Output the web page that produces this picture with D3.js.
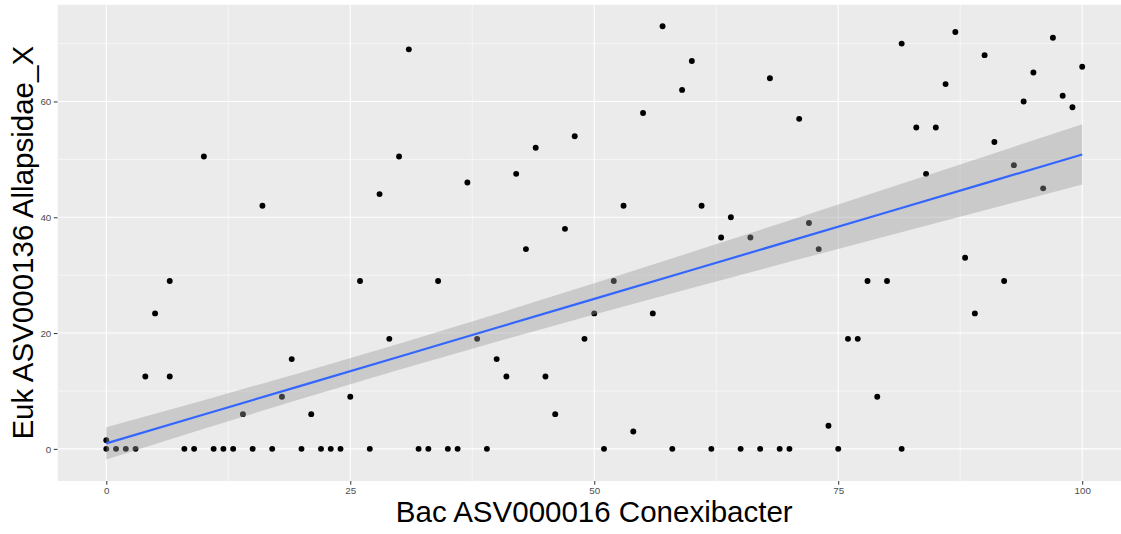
<!DOCTYPE html>
<html><head><meta charset="utf-8">
<script src="https://cdn.jsdelivr.net/npm/d3@7"></script>
<style>body{margin:0;background:#fff}svg{display:block}</style>
</head><body>
<script>
// Observations: Bac ASV000016 Conexibacter (x) vs Euk ASV000136 Allapsidae_X (y)
const bacX = [0,1,2,3,8,9,11,12,13,15,17,20,22,23,24,27,32,33,35,36,39,51,58,62,65,67,69,70,75,81.5,
  0,4,5,6.5,6.5,10,14,16,18,19,21,25,26,28,29,30,31,34,37,38,40,41,42,43,44,45,46,47,48,49,50,
  52,53,54,55,56,57,59,60,61,63,64,66,68,71,72,73,74,76,77,78,79,80,81.5,83,84,85,86,87,88,89,
  90,91,92,93,94,95,96,97,98,99,100];
const eukY = [0,0,0,0,0,0,0,0,0,0,0,0,0,0,0,0,0,0,0,0,0,0,0,0,0,0,0,0,0,0,
  1.5,12.5,23.4,29,12.5,50.5,6,42,9,15.5,6,9,29,44,19,50.5,69,29,46,19,15.5,12.5,47.5,34.5,52,12.5,6,38,54,19,23.4,
  29,42,3,58,23.4,73,62,67,42,36.5,40,36.5,64,57,39,34.5,4,19,19,29,9,29,70,55.5,47.5,55.5,63,72,33,23.4,
  68,53,29,49,60,65,45,71,61,59,66];
// Linear fit with 95% band
const smoothX    = [0,10,20,30,40,50,60,70,80,90,100];
const smoothFit  = [0.95,5.94,10.93,15.92,20.91,25.90,30.89,35.88,40.87,45.86,50.85];
const smoothLow  = [-1.85,3.47,8.66,13.67,18.51,23.20,27.79,32.30,36.77,41.21,45.65];
const smoothHigh = [3.75,8.41,13.20,18.17,23.31,28.60,33.99,39.46,44.97,50.51,56.05];
const xTicks = [0,25,50,75,100];
const yTicks = [0,20,40,60];
const xMinor = [12.5,37.5,62.5,87.5];
const yMinor = [10,30,50,70];
const xTitle = "Bac ASV000016 Conexibacter";
const yTitle = "Euk ASV000136 Allapsidae_X";

const W = 1121, H = 534;
const P = {left:57.5, right:1131, top:4.5, bottom:481};
const x = d3.scaleLinear().domain([-5,105]).range([P.left,P.right]);
const y = d3.scaleLinear().domain([-5.55,76.75]).range([P.bottom,P.top]);

const svg = d3.select("body").append("svg").attr("width",W).attr("height",H)
  .style("font-family","'Liberation Sans', Arial, sans-serif");
svg.append("rect").attr("width",W).attr("height",H).attr("fill","#fff");
svg.append("clipPath").attr("id","pc").append("rect")
  .attr("x",P.left).attr("y",P.top).attr("width",P.right-P.left).attr("height",P.bottom-P.top);
const g = svg.append("g").attr("clip-path","url(#pc)");
g.append("rect").attr("x",P.left).attr("y",P.top).attr("width",P.right-P.left).attr("height",P.bottom-P.top).attr("fill","#EBEBEB");
// minor grid
g.selectAll(".xm").data(xMinor).join("line").attr("x1",d=>x(d)).attr("x2",d=>x(d)).attr("y1",P.top).attr("y2",P.bottom).attr("stroke","#fff").attr("stroke-width",0.55);
g.selectAll(".ym").data(yMinor).join("line").attr("y1",d=>y(d)).attr("y2",d=>y(d)).attr("x1",P.left).attr("x2",P.right).attr("stroke","#fff").attr("stroke-width",0.55);
// major grid
g.selectAll(".xg").data(xTicks).join("line").attr("x1",d=>x(d)).attr("x2",d=>x(d)).attr("y1",P.top).attr("y2",P.bottom).attr("stroke","#fff").attr("stroke-width",1.1);
g.selectAll(".yg").data(yTicks).join("line").attr("y1",d=>y(d)).attr("y2",d=>y(d)).attr("x1",P.left).attr("x2",P.right).attr("stroke","#fff").attr("stroke-width",1.1);
// points
const pts = bacX.map((v,i)=>({x:v,y:eukY[i]}));
g.selectAll("circle").data(pts).join("circle").attr("cx",d=>x(d.x)).attr("cy",d=>y(d.y)).attr("r",2.95).attr("fill","#000");
// ribbon + line
const sm = smoothX.map((v,i)=>({x:v,f:smoothFit[i],lo:smoothLow[i],hi:smoothHigh[i]}));
g.append("path").datum(sm).attr("d",d3.area().x(d=>x(d.x)).y0(d=>y(d.lo)).y1(d=>y(d.hi))).attr("fill","#999999").attr("fill-opacity",0.4);
g.append("path").datum(sm).attr("d",d3.line().x(d=>x(d.x)).y(d=>y(d.f))).attr("fill","none").attr("stroke","#3366FF").attr("stroke-width",2.2);

// axes
const xa = svg.append("g").attr("transform",`translate(0,${P.bottom})`)
  .call(d3.axisBottom(x).tickValues(xTicks).tickSize(3.7).tickPadding(2.5).tickFormat(d3.format("d")));
const ya = svg.append("g").attr("transform",`translate(${P.left},0)`)
  .call(d3.axisLeft(y).tickValues(yTicks).tickSize(3.7).tickPadding(2.5).tickFormat(d3.format("d")));
[xa,ya].forEach(a=>{
  a.select(".domain").remove();
  a.selectAll(".tick line").attr("stroke","#333333").attr("stroke-width",1);
  a.selectAll(".tick text").attr("fill","#4D4D4D").style("font-size","9.8px").style("font-family","'Liberation Sans', Arial, sans-serif");
});
svg.append("text").attr("x",x(50)).attr("y",522).attr("text-anchor","middle")
  .style("font-size","29.5px").attr("fill","#000").text(xTitle);
svg.append("text").attr("transform",`translate(33,${(P.top+P.bottom)/2}) rotate(-90)`).attr("text-anchor","middle")
  .style("font-size","29.5px").attr("fill","#000").text(yTitle);
</script>
</body></html>
